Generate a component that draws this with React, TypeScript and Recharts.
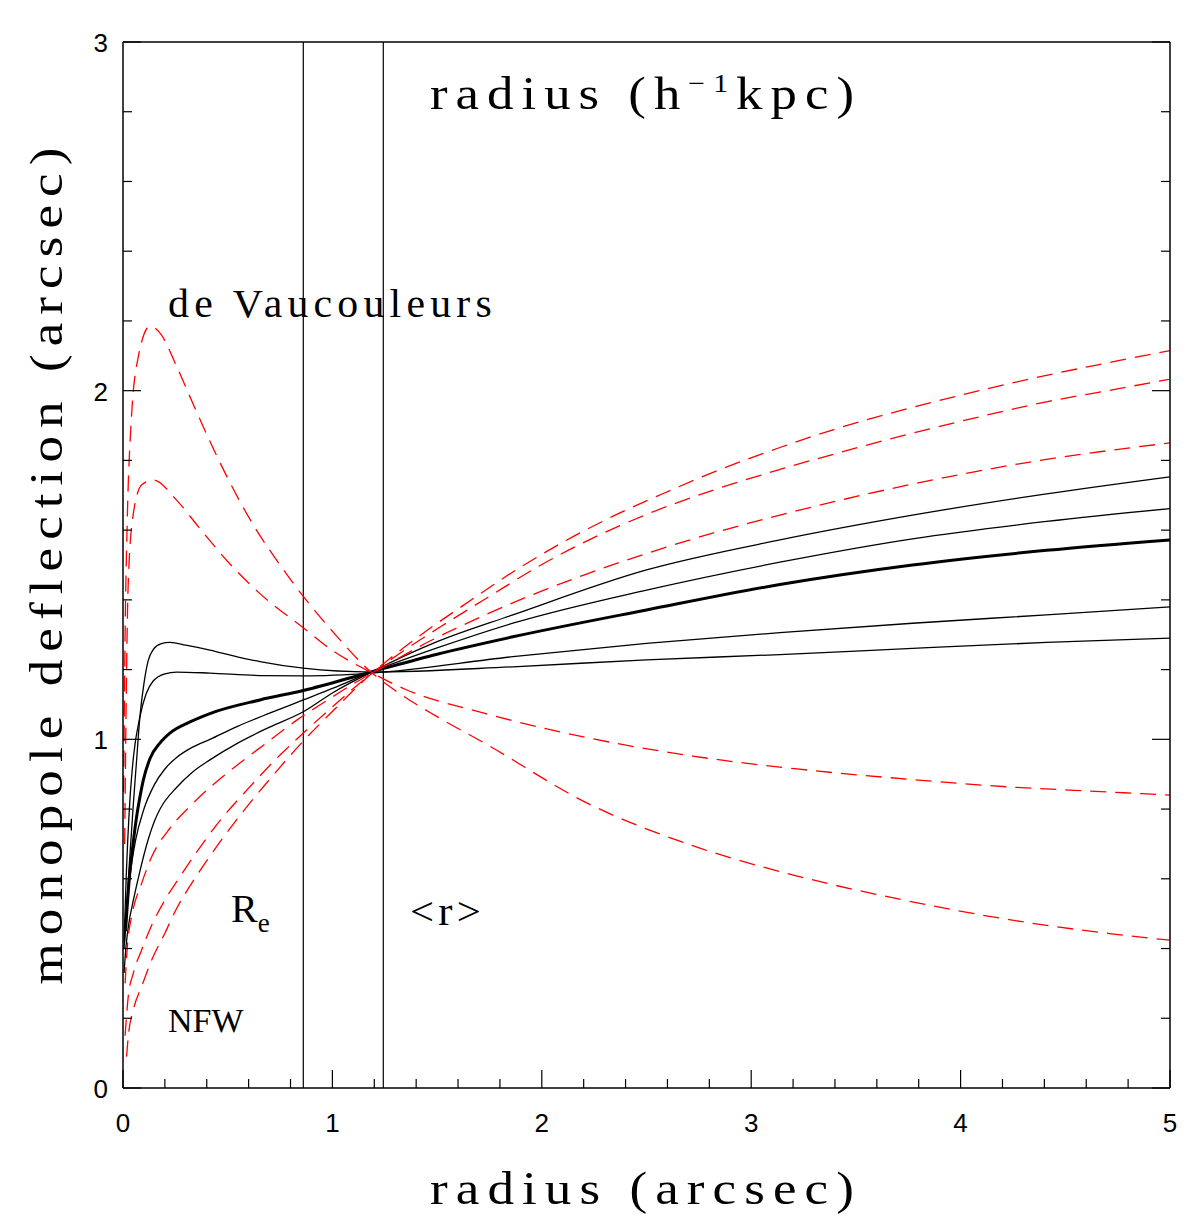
import React from 'react';
import { LineChart, Line, XAxis, YAxis, ReferenceLine } from 'recharts';

// ---------- ticks ----------
const xTicks = [0, 0.2, 0.4, 0.6, 0.8, 1, 1.2, 1.4, 1.6, 1.8, 2, 2.2, 2.4, 2.6, 2.8, 3, 3.2, 3.4, 3.6, 3.8, 4, 4.2, 4.4, 4.6, 4.8, 5];
const yTicks = [0, 0.2, 0.4, 0.6, 0.8, 1, 1.2, 1.4, 1.6, 1.8, 2, 2.2, 2.4, 2.6, 2.8, 3];
const kpcTicks = [0, 1, 2, 3, 4, 5, 6, 7, 8, 9, 10, 11, 12, 13, 14, 15, 16, 17, 18, 19, 20];

// vertical markers (arcsec): effective radius and <r>
const markerRe = 0.861;
const markerMean = 1.243;

// ---------- red dashed: de Vaucouleurs-like (peaked) ----------
const devA = [
  { x: 0.003, y: 0.85 }, { x: 0.01, y: 1.3 }, { x: 0.02, y: 1.62 }, { x: 0.04, y: 1.92 },
  { x: 0.073, y: 2.097 }, { x: 0.129, y: 2.185 }, { x: 0.177, y: 2.165 }, { x: 0.256, y: 2.07 },
  { x: 0.336, y: 1.96 }, { x: 0.415, y: 1.855 }, { x: 0.495, y: 1.755 }, { x: 0.622, y: 1.615 },
  { x: 0.75, y: 1.5 }, { x: 0.861, y: 1.41 }, { x: 1.0, y: 1.31 }, { x: 1.19, y: 1.19 },
  { x: 1.3, y: 1.14 }, { x: 1.5, y: 1.065 }, { x: 1.724, y: 0.99 }, { x: 2.224, y: 0.815 },
  { x: 2.72, y: 0.695 }, { x: 3.22, y: 0.608 }, { x: 3.72, y: 0.54 }, { x: 4.22, y: 0.484 },
  { x: 4.71, y: 0.443 }, { x: 5, y: 0.424 },
];
const devB = [
  { x: 0.008, y: 0.7 }, { x: 0.015, y: 1.1 }, { x: 0.025, y: 1.45 }, { x: 0.05, y: 1.65 },
  { x: 0.09, y: 1.73 }, { x: 0.145, y: 1.744 }, { x: 0.256, y: 1.686 }, { x: 0.36, y: 1.61 },
  { x: 0.5, y: 1.51 }, { x: 0.65, y: 1.42 }, { x: 0.861, y: 1.32 }, { x: 1.0, y: 1.255 },
  { x: 1.19, y: 1.19 }, { x: 1.35, y: 1.143 }, { x: 1.724, y: 1.075 }, { x: 2.224, y: 1.004 },
  { x: 2.72, y: 0.952 }, { x: 3.22, y: 0.915 }, { x: 3.72, y: 0.887 }, { x: 4.22, y: 0.864 },
  { x: 4.71, y: 0.849 }, { x: 5, y: 0.84 },
];

// ---------- red dashed: NFW-like (rising) ----------
const nfwA = [
  { x: 0.017, y: 0.09 }, { x: 0.025, y: 0.147 }, { x: 0.049, y: 0.224 }, { x: 0.089, y: 0.291 },
  { x: 0.137, y: 0.367 }, { x: 0.2, y: 0.444 }, { x: 0.256, y: 0.515 }, { x: 0.328, y: 0.587 },
  { x: 0.4, y: 0.652 }, { x: 0.55, y: 0.775 }, { x: 0.7, y: 0.885 }, { x: 0.861, y: 0.995 },
  { x: 1.0, y: 1.08 }, { x: 1.19, y: 1.19 }, { x: 1.275, y: 1.232 }, { x: 1.435, y: 1.305 },
  { x: 1.627, y: 1.385 }, { x: 1.862, y: 1.48 }, { x: 2.1, y: 1.565 }, { x: 2.34, y: 1.64 },
  { x: 2.58, y: 1.705 }, { x: 2.815, y: 1.765 }, { x: 3.137, y: 1.837 }, { x: 3.376, y: 1.885 },
  { x: 3.77, y: 1.952 }, { x: 4.09, y: 2.0 }, { x: 4.41, y: 2.044 }, { x: 4.73, y: 2.083 },
  { x: 5, y: 2.115 },
];
const nfwB = [
  { x: 0.01, y: 0.15 }, { x: 0.025, y: 0.262 }, { x: 0.049, y: 0.329 }, { x: 0.089, y: 0.396 },
  { x: 0.137, y: 0.467 }, { x: 0.2, y: 0.539 }, { x: 0.272, y: 0.606 }, { x: 0.344, y: 0.67 },
  { x: 0.45, y: 0.757 }, { x: 0.6, y: 0.86 }, { x: 0.75, y: 0.955 }, { x: 0.861, y: 1.018 },
  { x: 1.0, y: 1.093 }, { x: 1.19, y: 1.19 }, { x: 1.35, y: 1.258 }, { x: 1.546, y: 1.334 },
  { x: 1.75, y: 1.41 }, { x: 1.99, y: 1.498 }, { x: 2.246, y: 1.578 }, { x: 2.5, y: 1.645 },
  { x: 2.82, y: 1.715 }, { x: 3.137, y: 1.774 }, { x: 3.455, y: 1.828 }, { x: 3.77, y: 1.878 },
  { x: 4.09, y: 1.925 }, { x: 4.41, y: 1.968 }, { x: 4.73, y: 2.003 }, { x: 5, y: 2.033 },
];
const nfwC = [
  { x: 0.01, y: 0.3 }, { x: 0.022, y: 0.415 }, { x: 0.041, y: 0.491 }, { x: 0.089, y: 0.587 },
  { x: 0.137, y: 0.663 }, { x: 0.224, y: 0.745 }, { x: 0.32, y: 0.808 }, { x: 0.415, y: 0.862 },
  { x: 0.543, y: 0.925 }, { x: 0.686, y: 0.99 }, { x: 0.83, y: 1.055 }, { x: 0.957, y: 1.105 },
  { x: 1.116, y: 1.165 }, { x: 1.19, y: 1.19 }, { x: 1.466, y: 1.282 }, { x: 1.705, y: 1.35 },
  { x: 1.944, y: 1.412 }, { x: 2.214, y: 1.474 }, { x: 2.5, y: 1.533 }, { x: 2.82, y: 1.592 },
  { x: 3.137, y: 1.643 }, { x: 3.455, y: 1.69 }, { x: 3.77, y: 1.732 }, { x: 4.09, y: 1.77 },
  { x: 4.41, y: 1.803 }, { x: 4.73, y: 1.83 }, { x: 5, y: 1.85 },
];

// ---------- black solid: mixtures ----------
const mixBumpHigh = [
  { x: 0.005, y: 0.4 }, { x: 0.015, y: 0.5 }, { x: 0.03, y: 0.64 }, { x: 0.05, y: 0.82 },
  { x: 0.065, y: 0.94 }, { x: 0.08, y: 1.06 }, { x: 0.1, y: 1.16 }, { x: 0.12, y: 1.225 },
  { x: 0.145, y: 1.258 }, { x: 0.18, y: 1.274 }, { x: 0.224, y: 1.278 }, { x: 0.3, y: 1.27 },
  { x: 0.415, y: 1.256 }, { x: 0.55, y: 1.236 }, { x: 0.654, y: 1.223 }, { x: 0.861, y: 1.204 },
  { x: 1.19, y: 1.193 }, { x: 1.862, y: 1.208 }, { x: 2.5, y: 1.228 }, { x: 3.137, y: 1.243 },
  { x: 3.77, y: 1.261 }, { x: 4.41, y: 1.278 }, { x: 5, y: 1.29 },
];
const mixBumpLow = [
  { x: 0.005, y: 0.42 }, { x: 0.015, y: 0.6 }, { x: 0.033, y: 0.826 }, { x: 0.05, y: 0.95 },
  { x: 0.081, y: 1.065 }, { x: 0.11, y: 1.13 }, { x: 0.145, y: 1.168 }, { x: 0.2, y: 1.188 },
  { x: 0.256, y: 1.193 }, { x: 0.415, y: 1.19 }, { x: 0.654, y: 1.183 }, { x: 0.861, y: 1.182 },
  { x: 1.19, y: 1.19 }, { x: 1.862, y: 1.237 }, { x: 2.5, y: 1.275 }, { x: 3.137, y: 1.306 },
  { x: 3.77, y: 1.333 }, { x: 4.41, y: 1.357 }, { x: 5, y: 1.38 },
];
const mixMain = [
  { x: 0.012, y: 0.45 }, { x: 0.03, y: 0.6 }, { x: 0.048, y: 0.7 }, { x: 0.065, y: 0.778 },
  { x: 0.081, y: 0.835 }, { x: 0.097, y: 0.883 }, { x: 0.129, y: 0.945 }, { x: 0.177, y: 0.99 },
  { x: 0.224, y: 1.018 }, { x: 0.32, y: 1.05 }, { x: 0.415, y: 1.074 }, { x: 0.654, y: 1.113 },
  { x: 0.861, y: 1.14 }, { x: 1.19, y: 1.194 }, { x: 1.5, y: 1.244 }, { x: 1.862, y: 1.294 },
  { x: 2.5, y: 1.371 }, { x: 3.137, y: 1.444 }, { x: 3.77, y: 1.5 }, { x: 4.41, y: 1.542 },
  { x: 5, y: 1.572 },
];
const mixRiseA = [
  { x: 0.008, y: 0.42 }, { x: 0.02, y: 0.53 }, { x: 0.033, y: 0.606 }, { x: 0.06, y: 0.71 },
  { x: 0.1, y: 0.8 }, { x: 0.15, y: 0.87 }, { x: 0.2, y: 0.915 }, { x: 0.256, y: 0.948 },
  { x: 0.33, y: 0.977 }, { x: 0.415, y: 1.0 }, { x: 0.55, y: 1.038 }, { x: 0.7, y: 1.075 },
  { x: 0.861, y: 1.113 }, { x: 1.0, y: 1.146 }, { x: 1.19, y: 1.194 }, { x: 1.5, y: 1.262 },
  { x: 1.862, y: 1.333 }, { x: 2.5, y: 1.428 }, { x: 3.137, y: 1.508 }, { x: 3.77, y: 1.575 },
  { x: 4.41, y: 1.625 }, { x: 5, y: 1.662 },
];
const mixRiseB = [
  { x: 0.005, y: 0.33 }, { x: 0.015, y: 0.41 }, { x: 0.03, y: 0.48 }, { x: 0.05, y: 0.54 },
  { x: 0.08, y: 0.62 }, { x: 0.12, y: 0.712 }, { x: 0.15, y: 0.765 }, { x: 0.177, y: 0.8 },
  { x: 0.256, y: 0.862 }, { x: 0.33, y: 0.905 }, { x: 0.415, y: 0.941 }, { x: 0.55, y: 0.99 },
  { x: 0.7, y: 1.035 }, { x: 0.861, y: 1.079 }, { x: 1.0, y: 1.133 }, { x: 1.19, y: 1.194 },
  { x: 1.5, y: 1.28 }, { x: 1.862, y: 1.357 }, { x: 2.5, y: 1.486 }, { x: 3.137, y: 1.572 },
  { x: 3.77, y: 1.643 }, { x: 4.41, y: 1.704 }, { x: 5, y: 1.753 },
];

const solidSeries = [mixBumpHigh, mixBumpLow, mixRiseA, mixRiseB];
const dashedSeries = [devA, devB, nfwA, nfwB, nfwC];

// ---------- styling ----------
const SANS = "'Liberation Sans', Arial, Helvetica, sans-serif";
const SERIF = "'Liberation Serif', 'Times New Roman', serif";
const TICK_W = 1.2;
const near = (v: number, step: number) => Math.abs(v / step - Math.round(v / step)) < 1e-6;

const BottomTick = (p: any) => {
  const { x, y, payload } = p;
  const v = payload.value;
  const major = near(v, 1);
  return (
    <g>
      <line x1={x} x2={x} y1={y} y2={y - (major ? 18 : 9)} stroke="#000" strokeWidth={TICK_W} />
      {major && (
        <text x={x} y={y + 44} textAnchor="middle" fontFamily={SANS} fontSize={26} fill="#000">{v}</text>
      )}
    </g>
  );
};
const TopTick = (p: any) => {
  const { x, y, payload } = p;
  const v = payload.value;
  const major = near(v, 5);
  return (
    <g>
      <line x1={x} x2={x} y1={y} y2={y + (major ? 18 : 9)} stroke="#000" strokeWidth={TICK_W} />
      {major && (
        <text x={x} y={y - 16} textAnchor="middle" fontFamily={SANS} fontSize={26} fill="#000">{v}</text>
      )}
    </g>
  );
};
const LeftTick = (p: any) => {
  const { x, y, payload } = p;
  const v = payload.value;
  const major = near(v, 1);
  return (
    <g>
      <line x1={x} x2={x + (major ? 18 : 9)} y1={y} y2={y} stroke="#000" strokeWidth={TICK_W} />
      {major && (
        <text x={x - 15} y={y + 10} textAnchor="end" fontFamily={SANS} fontSize={26} fill="#000">{v}</text>
      )}
    </g>
  );
};
const RightTick = (p: any) => {
  const { x, y, payload } = p;
  const major = near(payload.value, 1);
  return <line x1={x} x2={x - (major ? 18 : 9)} y1={y} y2={y} stroke="#000" strokeWidth={TICK_W} />;
};

const axisLine = { stroke: '#000', strokeWidth: 1.5 };

export default function App() {
  return (
    <div style={{ position: 'absolute', left: 0, top: 0, width: 1186, height: 1217, background: '#fff' }}>
      <LineChart width={1186} height={1217} margin={{ top: 0, right: 0, bottom: 0, left: 0 }}>
        <XAxis
          dataKey="x" type="number" domain={[0, 5]} ticks={xTicks} interval={0}
          tickSize={0} tickMargin={0} tickLine={false} tick={BottomTick} axisLine={axisLine} height={129}
          allowDataOverflow
        />
        <XAxis
          xAxisId="top" orientation="top" type="number" domain={[0, 20]} ticks={kpcTicks} interval={0}
          tickSize={0} tickMargin={0} tickLine={false} tick={TopTick} axisLine={axisLine} height={42}
          allowDataOverflow
        />
        <YAxis
          type="number" domain={[0, 3]} ticks={yTicks} interval={0}
          tickSize={0} tickMargin={0} tickLine={false} tick={LeftTick} axisLine={axisLine} width={123}
          allowDataOverflow
        />
        <YAxis
          yAxisId="right" orientation="right" type="number" domain={[0, 3]} ticks={yTicks} interval={0}
          tickSize={0} tickMargin={0} tickLine={false} tick={RightTick} axisLine={axisLine} width={16}
          allowDataOverflow
        />

        <ReferenceLine x={markerRe} stroke="#000" strokeWidth={1.2} />
        <ReferenceLine x={markerMean} stroke="#000" strokeWidth={1.2} />

        {solidSeries.map((d, i) => (
          <Line key={'s' + i} data={d} dataKey="y" type="monotone" stroke="#000" strokeWidth={1.3}
            dot={false} activeDot={false} isAnimationActive={false} />
        ))}
        <Line data={mixMain} dataKey="y" type="monotone" stroke="#000" strokeWidth={3}
          dot={false} activeDot={false} isAnimationActive={false} />
        {dashedSeries.map((d, i) => (
          <Line key={'d' + i} data={d} dataKey="y" type="monotone" stroke="#ff0000" strokeWidth={1.3}
            strokeDasharray="16 9" dot={false} activeDot={false} isAnimationActive={false} />
        ))}

        {/* axis titles */}
        <text x={430} y={1204} fontFamily={SERIF} fontSize={46} fill="#000" letterSpacing={7}
          textLength={432} lengthAdjust="spacingAndGlyphs">
          radius (arcsec)
        </text>
        <text x={430} y={109} fontFamily={SERIF} fontSize={46} fill="#000" letterSpacing={7}
          textLength={432} lengthAdjust="spacingAndGlyphs">
          radius (h<tspan fontSize={26} dy={-17}>−1</tspan><tspan dy={17}>kpc)</tspan>
        </text>
        <text x={62} y={562} transform="rotate(-90 62 562)" textAnchor="middle" fontFamily={SERIF} fontSize={46}
          fill="#000" letterSpacing={7} textLength={845} lengthAdjust="spacingAndGlyphs">
          monopole deflection (arcsec)
        </text>

        {/* annotations */}
        <text x={168} y={317} fontFamily={SERIF} fontSize={40} fill="#000" letterSpacing={5}
          textLength={329} lengthAdjust="spacingAndGlyphs">de Vaucouleurs</text>
        <text x={231} y={922} fontFamily={SERIF} fontSize={40} fill="#000">
          R<tspan fontSize={27} dy={10}>e</tspan>
        </text>
        <text x={410} y={925} fontFamily={SERIF} fontSize={40} fill="#000" letterSpacing={4}
          textLength={75} lengthAdjust="spacingAndGlyphs">&lt;r&gt;</text>
        <text x={168} y={1032} fontFamily={SERIF} fontSize={34} fill="#000">NFW</text>
      </LineChart>
    </div>
  );
}
